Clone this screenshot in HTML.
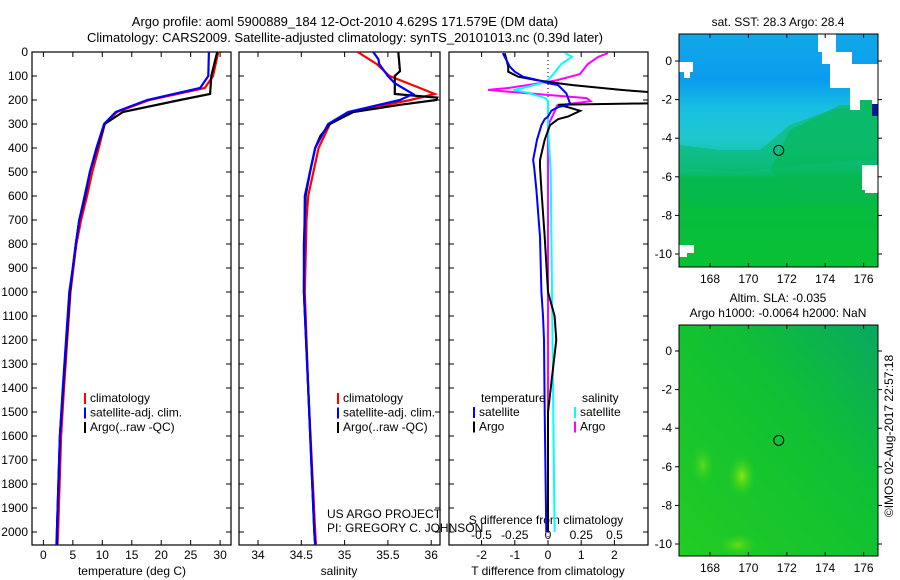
<!DOCTYPE html>
<html><head><meta charset="utf-8">
<style>
html,body{margin:0;padding:0;background:#fff;}
svg{display:block;font-family:"Liberation Sans",sans-serif;}
text{font-size:12px;fill:#000;}
</style></head>
<body>
<svg id="chart" width="900" height="580" viewBox="0 0 900 580">
<defs>
<linearGradient id="sstg" x1="0" y1="0" x2="0" y2="1">
<stop offset="0" stop-color="#10a8e8"/>
<stop offset="0.2" stop-color="#0a9cee"/>
<stop offset="0.32" stop-color="#18c0e0"/>
<stop offset="0.45" stop-color="#1ec8cc"/>
<stop offset="0.55" stop-color="#12c2a8"/>
<stop offset="0.62" stop-color="#06b850"/>
<stop offset="1" stop-color="#08c034"/>
</linearGradient>
<linearGradient id="slag" x1="0" y1="1" x2="1" y2="0">
<stop offset="0" stop-color="#22cc22"/>
<stop offset="0.6" stop-color="#10c034"/>
<stop offset="1" stop-color="#08a860"/>
</linearGradient>
<radialGradient id="blob"><stop offset="0" stop-color="#88e810"/><stop offset="1" stop-color="#33d020" stop-opacity="0"/></radialGradient>
</defs>
<g id="g"></g>
</svg>
<script>
// ---- data ----
const depthTicks=[0,100,200,300,400,500,600,700,800,900,1000,1100,1200,1300,1400,1500,1600,1700,1800,1900,2000];
const tempTicks=[0,5,10,15,20,25,30];
const salTicks=[34,34.5,35,35.5,36];
const tdTicks=[-2,-1,0,1,2];
const sdTicks=[-0.5,-0.25,0,0.25,0.5];
const lonTicks=[168,170,172,174,176];
const latTicks=[0,-2,-4,-6,-8,-10];

const tDepth=[0,100,175,200,250,300,400,500,600,700,800,900,1000,1400,1600,2000,2055];
const tArgo=[29.5,28.5,28.3,23.2,13.5,10.4,9.1,7.9,7.1,6.1,5.5,5.0,4.5,3.35,2.8,2.3,2.3];
const tClimD=[0,100,150,200,250,300,400,500,600,700,800,900,1000,1400,1600,2000,2055];
const tClim=[29.7,28.8,27.4,18,12.5,10.4,9.4,8.3,7.4,6.4,5.6,5.1,4.6,3.5,3.0,2.5,2.4];
const tSat=[28.1,28.0,26.6,17.6,12.3,10.3,9.0,7.9,7.0,6.1,5.5,5.0,4.4,3.3,2.8,2.3,2.2];

const sArgoD=[0,80,100,175,190,200,220,250,300,350,400,500,600,800,1000,1400,2000,2055];
const sArgo=[35.62,35.64,35.58,35.58,36.07,36.06,35.64,35.1,34.83,34.72,34.66,34.6,34.55,34.53,34.53,34.58,34.65,34.66];
const sClimD=[0,50,100,150,175,200,250,300,400,600,700,1000,1400,2000,2055];
const sClim=[35.15,35.37,35.52,35.87,36.04,35.76,35.06,34.83,34.7,34.58,34.56,34.54,34.58,34.66,34.67];
const sSatD=[0,30,50,100,130,175,200,250,300,400,600,1000,1400,2000,2055];
const sSat=[35.33,35.39,35.4,35.5,35.58,35.79,35.64,35.04,34.81,34.66,34.54,34.53,34.58,34.65,34.66];

const dTD=[5,61,82,103,117,130,138,158,172,213,220,230,245,269,280,305,366,450,478,575,770,1000,1100,1200,1500,2000];
const dTsat=[-1.36,-1.15,-1.0,-0.75,-0.3,0,0.3,0.45,0.55,0.66,0.6,0.3,0.1,0,-0.1,-0.2,-0.33,-0.45,-0.42,-0.35,-0.24,-0.2,-0.15,-0.12,-0.1,-0.05];
const dTargo=[-1.3,-1.2,-1.2,-0.9,-0.35,0.3,0.75,2.2,3.5,3.5,0.3,0.6,0.97,0.6,0.3,0.06,-0.1,-0.24,-0.24,-0.2,-0.1,0,0.2,0.25,0,0];
const dSD=[5,20,50,92,117,130,150,158,170,192,205,222,260,306,500,1000,1500,2000];
const dSargo=[0.45,0.38,0.3,0.24,0.07,-0.06,-0.3,-0.45,-0.2,0.29,0.32,0.07,0.04,0,0,0,0,0];
const dSsat=[0.13,0.18,0.1,0.04,0,-0.05,-0.19,-0.26,-0.15,-0.02,0,0,0,0,0.02,0.03,0.04,0.05];

// ---- helpers ----
const NS="http://www.w3.org/2000/svg";
const G=document.getElementById('g');
function el(t,a,p){const e=document.createElementNS(NS,t);for(const k in a)e.setAttribute(k,a[k]);(p||G).appendChild(e);return e;}
function txt(x,y,s,anchor,p){const e=el('text',{x:x,y:y,'text-anchor':anchor||'start'},p);e.textContent=s;return e;}

const Y0=52,YK=0.24,TOP=52,BOT=545;
const yD=d=>Y0+d*YK;
const xT=t=>43.4+t*5.89;
const xS=s=>258+(s-34)*86.6;
const xTd=v=>548+v*33.2;
const xSd=v=>548+v*133;

function panel(x0,x1,name){
  const r=el('rect',{x:x0,y:TOP,width:x1-x0,height:BOT-TOP,fill:'none',stroke:'#000','stroke-width':1.2});
  
  
  depthTicks.forEach(d=>{const y=yD(d);el('line',{x1:x0,x2:x0+5,y1:y,y2:y,stroke:'#000'});el('line',{x1:x1-5,x2:x1,y1:y,y2:y,stroke:'#000'});});
}
function clip(id,x0,x1){const c=el('clipPath',{id:id});el('rect',{x:x0,y:TOP,width:x1-x0,height:BOT-TOP},c);}
function line(ds,vs,xf,color,name,cl,w){
  const pts=ds.map((d,i)=>xf(vs[i]).toFixed(1)+','+yD(d).toFixed(1)).join(' ');
  const p=el('polyline',{points:pts,fill:'none',stroke:color,'stroke-width':w||2.2,'clip-path':'url(#'+cl+')'});
  
  
}

// title
let t1=txt(345,26,'Argo profile: aoml 5900889_184 12-Oct-2010 4.629S 171.579E (DM data)','middle');t1.style.fontSize='13px';


let t2=txt(345,42,'Climatology: CARS2009. Satellite-adjusted climatology: synTS_20101013.nc (0.39d later)','middle');t2.style.fontSize='13px';



clip('c1',32,231);clip('c2',239,440);clip('c3',449,648);
// panel 1
panel(32,231,'temperature-panel');
depthTicks.forEach(d=>{const l=txt(28,yD(d)+4,String(d),'end');});
tempTicks.forEach(t=>{const x=xT(t);el('line',{x1:x,x2:x,y1:BOT,y2:BOT-5,stroke:'#000'});el('line',{x1:x,x2:x,y1:TOP,y2:TOP+5,stroke:'#000'});txt(x,559,String(t),'middle');});
let a1=txt(132,575,'temperature (deg C)','middle');
line(tClimD,tClim,xT,'#f00','temp-climatology','c1');
line(tDepth,tArgo,xT,'#000','temp-argo','c1');
line(tClimD,tSat,xT,'#00f','temp-satellite','c1');

// panel 2
panel(239,440,'salinity-panel');
salTicks.forEach(s=>{const x=xS(s);el('line',{x1:x,x2:x,y1:BOT,y2:BOT-5,stroke:'#000'});el('line',{x1:x,x2:x,y1:TOP,y2:TOP+5,stroke:'#000'});txt(x,559,String(s),'middle');});
let a2=txt(339,575,'salinity','middle');
line(sClimD,sClim,xS,'#f00','sal-climatology','c2');
line(sArgoD,sArgo,xS,'#000','sal-argo','c2');
line(sSatD,sSat,xS,'#00f','sal-satellite','c2');

// panel 3
panel(449,648,'difference-panel');
el('line',{x1:548,x2:548,y1:TOP,y2:BOT,stroke:'#000','stroke-dasharray':'1,3'});
tdTicks.forEach(v=>{const x=xTd(v);el('line',{x1:x,x2:x,y1:BOT,y2:BOT-5,stroke:'#000'});el('line',{x1:x,x2:x,y1:TOP,y2:TOP+5,stroke:'#000'});txt(x,559,String(v),'middle');});
sdTicks.forEach(v=>{txt(xSd(v),539,String(v),'middle');});
let a3=txt(548,575,'T difference from climatology','middle');
let a4=txt(546,524,'S difference from climatology','middle');
line(dSD,dSargo,xSd,'#f0f','sdiff-argo','c3',2);
line(dSD,dSsat,xSd,'#0ff','sdiff-satellite','c3',2);
line(dTD,dTargo,xTd,'#000','tdiff-argo','c3',2);
line(dTD,dTsat,xTd,'#00f','tdiff-satellite','c3',2);

// legends
function legend(x,y,items,name){
  const g=el('g',{});
  items.forEach((it,i)=>{const yy=y+i*14.5;el('rect',{x:x,y:yy-9,width:2,height:11,fill:it[1]},g);txt(x+6,yy,it[0],'start',g);});
}
legend(84,402,[['climatology','#f00'],['satellite-adj. clim.','#00f'],['Argo(..raw -QC)','#000']],'temperature-legend');
legend(337,402,[['climatology','#f00'],['satellite-adj. clim.','#00f'],['Argo(..raw -QC)','#000']],'salinity-legend');
txt(481,402,'temperature');txt(582,402,'salinity');
legend(473,416,[['satellite','#00f'],['Argo','#000']],'tdiff-legend');
legend(574,416,[['satellite','#0ff'],['Argo','#f0f']],'sdiff-legend');
txt(327,518,'US ARGO PROJECT');txt(327,532,'PI: GREGORY C. JOHNSON');

// maps
const mx=lon=>710+(lon-168)*19.2;
function map(y0,y1,fill,name){
  const g=el('g',{});
  el('rect',{x:679,y:y0,width:199,height:y1-y0,fill:fill},g);
  return g;
}
const m1=map(34,267,'url(#sstg)','sst-map');
el('polygon',{points:'878,105 830,110 790,125 760,150 720,150 679,145 679,168 740,172 800,165 878,160',fill:'#08b860',opacity:0.55},m1);
el('polygon',{points:'840,105 878,105 878,200 800,200 770,170 790,130',fill:'#06b850',opacity:0.6},m1);
el('rect',{x:679,y:205,width:199,height:62,fill:'#08c430',opacity:0.35},m1);
[[818,34,18,18],[822,52,30,12],[830,64,48,24],[850,88,28,22],[679,62,14,10],[684,72,6,6],[862,165,16,25],[865,190,13,3],[679,245,15,8],[679,253,8,4]].forEach(r=>el('rect',{x:r[0],y:r[1],width:r[2],height:r[3],fill:'#fff'},m1));
el('rect',{x:872,y:104,width:6,height:12,fill:'#001a99'},m1);
el('rect',{x:860,y:100,width:12,height:10,fill:'#0cb860'},m1);
el('rect',{x:679,y:34,width:199,height:233,fill:'none',stroke:'#000'},m1);
el('circle',{cx:mx(171.579),cy:61+4.629*19.3,r:5,fill:'none',stroke:'#000'},m1);
txt(778,26,'sat. SST: 28.3 Argo: 28.4','middle');

const m2=map(325,556,'url(#slag)','sla-map');
el('ellipse',{cx:742,cy:476,rx:14,ry:22,fill:'url(#blob)'},m2);
el('ellipse',{cx:703,cy:465,rx:12,ry:20,fill:'url(#blob)',opacity:0.6},m2);
el('ellipse',{cx:738,cy:545,rx:20,ry:12,fill:'url(#blob)',opacity:0.7},m2);
el('rect',{x:679,y:325,width:199,height:231,fill:'none',stroke:'#000'},m2);
el('circle',{cx:mx(171.579),cy:351+4.629*19.3,r:5,fill:'none',stroke:'#000'},m2);
txt(778,302,'Altim. SLA: -0.035','middle');
txt(778,317,'Argo h1000: -0.0064 h2000: NaN','middle');

[[34,267,61],[325,556,351]].forEach(m=>{
  lonTicks.forEach(l=>{const x=mx(l);el('line',{x1:x,x2:x,y1:m[0],y2:m[0]+4,stroke:'#000'});el('line',{x1:x,x2:x,y1:m[1],y2:m[1]-4,stroke:'#000'});txt(x,m[1]+16,String(l),'middle');});
  latTicks.forEach(l=>{const y=m[2]-l*19.3;el('line',{x1:679,x2:675,y1:y,y2:y,stroke:'#000'});el('line',{x1:878,x2:882,y1:y,y2:y,stroke:'#000'});txt(672,y+4,String(l),'end');});
});
const ct=txt(0,0,'©IMOS 02-Aug-2017 22:57:18','middle');
ct.setAttribute('transform','translate(893,436) rotate(-90)');


</script>
</body></html>
